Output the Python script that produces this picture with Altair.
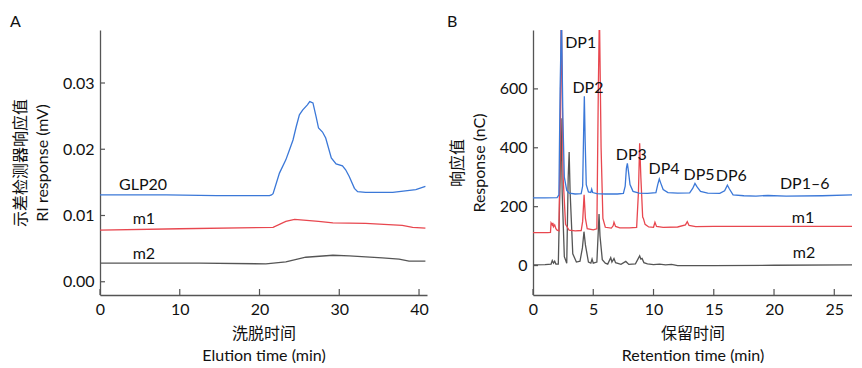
import altair as alt
import pandas as pd

# ---------------- Panel A data (elution time, min ; RI response, mV) ----------------
glp20_t = [0, 8.3, 14.6, 21.25, 21.5, 21.7, 22.5, 23.3, 23.75, 24.2, 24.6, 25.0, 25.4, 26.0, 26.3, 26.7,
           27.1, 27.4, 27.9, 28.3, 29.0, 29.6, 30.4, 30.8, 31.25, 31.9, 32.3, 33.3, 36.7, 39.6, 40.8]
glp20_v = [0.0131, 0.0131, 0.0130, 0.0130, 0.0131, 0.0133, 0.0164, 0.0184, 0.0199, 0.0214, 0.0234, 0.0252,
           0.0259, 0.0267, 0.0272, 0.0270, 0.0249, 0.0232, 0.0226, 0.0217, 0.0187, 0.0178, 0.0175, 0.0169,
           0.0159, 0.0141, 0.0136, 0.0135, 0.0135, 0.0139, 0.0144]

m1a_t = [0, 10, 21.7, 23.3, 24.4, 27.4, 29.2, 33.3, 37.9, 39.2, 40.8]
m1a_v = [0.0078, 0.0080, 0.0082, 0.0091, 0.0094, 0.0091, 0.0089, 0.0088, 0.0085, 0.0082, 0.0081]

m2a_t = [0, 12.5, 20.8, 23.3, 25.8, 29.2, 31.25, 35.4, 37.5, 38.75, 40, 40.8]
m2a_v = [0.0028, 0.0028, 0.0027, 0.0030, 0.0037, 0.0040, 0.0039, 0.0036, 0.0034, 0.0031, 0.0031, 0.0031]

a_label_text = ["GLP20", "m1", "m2"]
a_label_t = [5.4, 5.5, 5.5]
a_label_v = [0.0146, 0.00945, 0.0042]

a_xticks = [0, 10, 20, 30, 40]
a_yticks = [0.00, 0.01, 0.02, 0.03]

# ---------------- Panel B data (retention time, min ; response, nC) ----------------
# peaks that run off the top of the frame are entered at the frame top (800 nC)
dp_t = [0.0, 1.0, 2.0, 2.15, 2.25, 2.34, 2.38, 2.48, 2.6, 2.8, 3.0, 3.5, 4.0, 4.12, 4.2, 4.26, 4.33, 4.42,
        4.6, 4.8, 4.87, 4.95, 5.3, 6.0, 7.0, 7.5, 7.65, 7.75, 7.83, 7.92, 8.05, 8.3, 8.8, 9.5, 10.2, 10.35,
        10.48, 10.6, 10.8, 11.2, 12.0, 13.0, 13.25, 13.44, 13.6, 13.9, 14.5, 15.5, 15.9, 16.13, 16.3, 16.6,
        17.5, 18.5, 19.5, 21.0, 24.0, 26.47]
dp_v = [230, 230, 231, 240, 600, 800, 800, 500, 300, 255, 246, 243, 244, 270, 450, 575, 420, 275,
        250, 248, 259, 248, 244, 243, 243, 245, 270, 330, 347, 320, 275, 252, 246, 245, 248, 275,
        294, 280, 258, 248, 246, 247, 262, 279, 268, 252, 246, 245, 254, 273, 260, 240,
        237, 236, 238, 236, 237, 240]

m1b_t = [0, 1.2, 1.45, 1.5, 1.6, 1.65, 1.7, 1.8, 1.9, 2.0, 2.15, 2.25, 2.33, 2.37, 2.5, 2.7, 3.0, 3.5,
         4.0, 4.12, 4.24, 4.35, 4.5, 5.0, 5.3, 5.42, 5.49, 5.53, 5.65, 5.8, 6.0, 6.5, 6.65, 6.72, 6.85,
         7.2, 8.0, 8.6, 8.75, 8.85, 8.95, 9.1, 9.16, 9.3, 9.6, 10.0, 10.12, 10.25, 10.8, 12.0, 12.65,
         12.8, 12.95, 13.5, 15.0, 20.0, 26.47]
m1b_v = [112, 112, 113, 145, 138, 145, 132, 138, 125, 120, 118, 400, 800, 800, 300, 140, 120, 118,
         119, 150, 240, 160, 125, 121, 125, 600, 800, 800, 400, 160, 130, 127, 135, 147, 133,
         128, 128, 130, 250, 415, 300, 165, 160, 140, 131, 130, 147, 133, 130, 131, 138,
         149, 136, 132, 133, 133, 133]

m2b_t = [0, 1.0, 1.5, 1.6, 1.7, 1.8, 1.9, 2.1, 2.25, 2.33, 2.42, 2.6, 2.8, 2.92, 3.0, 3.08, 3.3, 3.6,
         3.9, 4.1, 4.23, 4.35, 4.6, 4.8, 4.9, 5.0, 5.3, 5.42, 5.48, 5.56, 5.75, 6.0, 6.2, 6.45, 6.55,
         6.72, 6.85, 7.3, 7.7, 7.95, 8.5, 8.85, 8.95, 9.05, 9.2, 9.5, 10.0, 10.5, 11.0, 11.5, 12.0,
         15.0, 20.0, 26.47]
m2b_v = [2, 3, 5, 17, 8, 15, 5, 5, 300, 500, 250, 30, 8, 300, 386, 250, 40, 12,
         15, 60, 115, 70, 12, 8, 22, 8, 12, 120, 175, 100, 20, 8, 5, 27, 12,
         24, 10, 4, 14, 4, 6, 33, 22, 24, 10, 6, 3, 5, 2, 4, 0,
         0, 1, 2]

b_label_text = ["DP1", "DP2", "DP3", "DP4", "DP5", "DP6", "DP1\u20136", "m1", "m2"]
b_label_t = [3.96, 4.56, 8.16, 10.87, 13.78, 16.46, 22.55, 22.4, 22.49]
b_label_v = [757, 603, 377, 328, 307, 305, 276, 163, 42]

b_xticks = [0, 5, 10, 15, 20, 25]
b_yticks = [0, 200, 400, 600]

# ---------------- styling ----------------
BLUE = "#3b78d8"
RED = "#e8474f"
GRAY = "#555555"
AXIS = "#555555"
FONT = "Lato, 'Noto Sans CJK SC', sans-serif"
H = 265


def panel(series, labels, xdom, ydom, xticks, yticks, xtitle, ytitle, yfmt, letter, letter_dx, width):
    xs = alt.Scale(domain=xdom, nice=False, zero=False)
    ys = alt.Scale(domain=ydom, nice=False, zero=False)
    layers = []
    for i, (t, v, col) in enumerate(series):
        df = pd.DataFrame({"t": t, "v": v})
        if i == 0:
            xenc = alt.X("t:Q", scale=xs, axis=alt.Axis(values=xticks, title=xtitle, labelFlush=False,
                                                        format="d"))
            yenc = alt.Y("v:Q", scale=ys, axis=alt.Axis(values=yticks, title=ytitle, format=yfmt))
        else:
            xenc = alt.X("t:Q", scale=xs)
            yenc = alt.Y("v:Q", scale=ys)
        layers.append(alt.Chart(df).mark_line(color=col, strokeWidth=1.3, clip=True)
                      .encode(x=xenc, y=yenc))
    ldf = pd.DataFrame({"label": labels[0], "t": labels[1], "v": labels[2]})
    layers.append(alt.Chart(ldf).mark_text(font=FONT, fontSize=16, color="#111", align="center",
                                           baseline="middle")
                  .encode(x=alt.X("t:Q", scale=xs), y=alt.Y("v:Q", scale=ys), text="label:N"))
    xt = pd.DataFrame({"t": xticks})
    layers.append(alt.Chart(xt).mark_rule(color=AXIS, strokeWidth=1.2)
                  .encode(x=alt.X("t:Q", scale=xs), y=alt.value(H), y2=alt.value(H - 6)))
    yt = pd.DataFrame({"v": yticks})
    layers.append(alt.Chart(yt).mark_rule(color=AXIS, strokeWidth=1.2)
                  .encode(y=alt.Y("v:Q", scale=ys), x=alt.value(0), x2=alt.value(5)))
    # panel letter
    layers.append(alt.Chart(pd.DataFrame({"s": [letter]})).mark_text(
        font=FONT, fontSize=16, color="#111", align="left", baseline="alphabetic")
        .encode(text="s:N", x=alt.value(letter_dx), y=alt.value(-3)))
    return alt.layer(*layers).properties(width=width, height=H)


left = panel(
    [(m2a_t, m2a_v, GRAY), (m1a_t, m1a_v, RED), (glp20_t, glp20_v, BLUE)],
    (a_label_text, a_label_t, a_label_v),
    [0, 41], [-0.002, 0.038], a_xticks, a_yticks,
    ["洗脱时间", "Elution time (min)"], ["示差检测器响应值", "RI response (mV)"], ".2f", "A", -90, 327,
)
right = panel(
    [(m2b_t, m2b_v, GRAY), (m1b_t, m1b_v, RED), (dp_t, dp_v, BLUE)],
    (b_label_text, b_label_t, b_label_v),
    [0, 26.47], [-100, 800], b_xticks, b_yticks,
    ["保留时间", "Retention time (min)"], ["响应值", "Response (nC)"], "d", "B", -86, 319,
)

chart = (
    alt.hconcat(left, right, spacing=18)
    .properties(padding={"left": 2, "top": 6, "right": 0, "bottom": 0}, background="white")
    .configure_view(stroke=None)
    .configure_axis(
        grid=False, ticks=False, domainColor=AXIS, domainWidth=1.3,
        labelFont=FONT, labelFontSize=16, labelColor="#111", labelPadding=6,
        titleFont=FONT, titleFontSize=16, titleFontWeight="normal", titleColor="#111",
        titleLineHeight=22,
    )
    .configure_axisX(titlePadding=8)
    .configure_axisY(titlePadding=12)
)

chart.save("out.html", embed_options={"renderer": "svg", "actions": False})
